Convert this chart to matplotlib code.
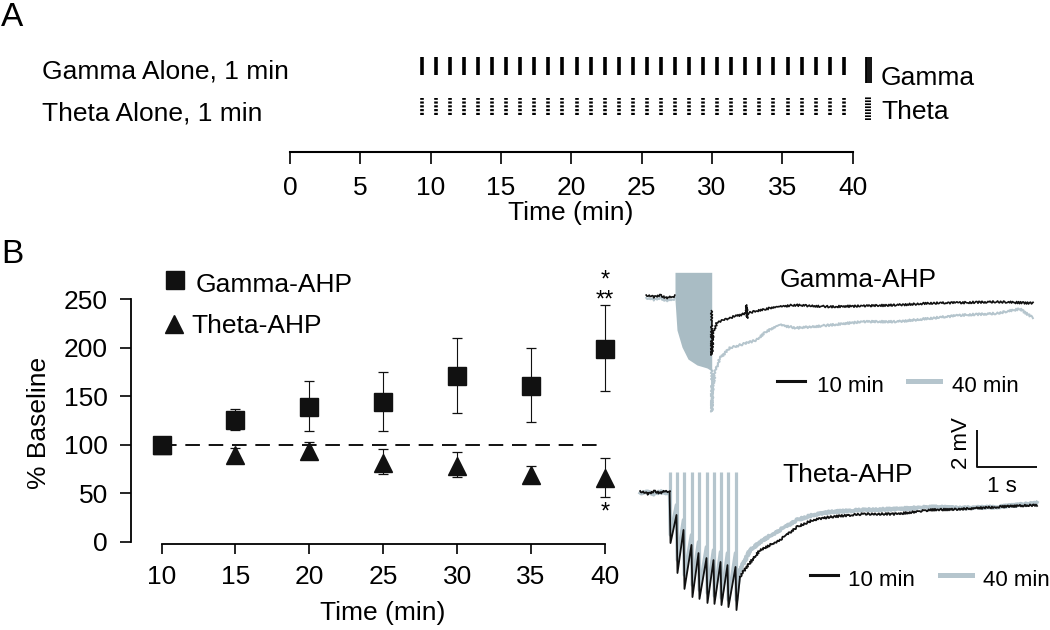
import numpy as np
import matplotlib
matplotlib.use("Agg")
import matplotlib.pyplot as plt
from matplotlib.lines import Line2D

plt.rcParams['font.family'] = ['Liberation Sans', 'DejaVu Sans']
plt.rcParams['axes.linewidth'] = 1.3

W, H = 1050, 630
nan = np.nan

# ---------------- data ----------------
# Panel A: stimulation protocols
protocol_names = ["Gamma Alone, 1 min", "Theta Alone, 1 min"]
protocol_keys = ["Gamma", "Theta"]
epoch_minutes = list(range(10, 41))          # one stimulation epoch each minute
timeline_ticks = [0, 5, 10, 15, 20, 25, 30, 35, 40]

# Panel B: summary (% baseline)
time_min = [10, 15, 20, 25, 30, 35, 40]
gamma_mean = [100, 126, 139, 144.5, 170.5, 160.5, 199]
gamma_low = [100, 115.5, 114, 114.5, 132.5, 123.5, 155]
gamma_high = [100, 137, 166, 175, 210.5, 200, 244]
theta_mean = [100, 89.5, 94, 81, 78.5, 68.5, 66]
theta_low = [100, 85, 88, 69.5, 67, 62, 46.5]
theta_high = [100, 96.5, 102.5, 95.5, 93, 78, 86]
yticks_B = [0, 50, 100, 150, 200, 250]
sig_marks = [("*\n**", 40, 242.3), ("*", 40, 23.9)]
series_names = ["Gamma-AHP", "Theta-AHP"]
trace_names = ["10 min", "40 min"]

# Example traces (time in s, membrane potential in mV)
gamma_10_t = [-0.03, 0.1, 0.2, 0.3, 0.45, nan, 1.058, 1.062, 1.088, 1.145, 1.255, 1.422,
              1.64, 1.645, 1.65, 1.655, 1.867, 2.033, 2.422, 3.033, 3.583, 4.145, 4.70,
              5.25, 5.81, 6.417]
gamma_10_v = [0.05, -0.05, 0.05, -0.1, 0.0, nan, -0.8, -3.19, -1.93, -1.48, -1.30, -1.12,
              -0.94, -0.49, -1.19, -0.94, -0.76, -0.66, -0.49, -0.58, -0.54, -0.49, -0.39,
              -0.36, -0.31, -0.39]
gamma_40_t = [-0.03, 0.1, 0.2, 0.3, 0.45, nan, 1.06, 1.064, 1.078, 1.117, 1.2, 1.367, 1.533,
              1.812, 1.95, 2.2, 2.478, 2.75, 3.033, 3.583, 4.145, 4.70, 5.25, 5.81, 6.2, 6.417]
gamma_40_v = [-0.1, -0.2, -0.1, -0.25, -0.15, nan, -4.0, -6.25, -5.17, -4.09, -3.35, -2.81,
              -2.65, -2.38, -1.95, -1.57, -1.73, -1.66, -1.57, -1.39, -1.39, -1.21, -1.03,
              -0.94, -0.70, -1.19]
gamma_train_t = [0.45, 0.483, 0.567, 0.667, 0.817, 0.983, 1.062]
gamma_train_low = [-0.22, -1.84, -2.76, -3.41, -3.73, -3.89, -4.05]
gamma_train_high = 1.28

theta_burst_t = [0.367, 0.483, 0.6, 0.733, 0.85, 0.983, 1.1, 1.217, 1.333, 1.467]
theta_artifact_high = 1.09
theta_pre_t = [-0.13, 0.0, 0.1, 0.2, 0.3, 0.36]
theta_10_pre_v = [0.05, -0.1, 0.05, -0.05, 0.08, 0.0]
theta_40_pre_v = [-0.05, 0.0, -0.1, 0.02, -0.05, -0.05]
theta_10_tips = [-2.76, -4.38, -5.24, -5.68, -5.78, -6.0, -6.05, -6.11, -6.22, -6.38]
theta_10_levels = [-1.24, -2.05, -2.86, -3.30, -3.57, -3.68, -3.78, -3.95, -4.05]
theta_10_post_t = [1.533, 1.645, 1.867, 2.2, 2.483, 2.75, 3.033, 3.583, 4.15, 4.70, 5.25, 5.817, 6.483]
theta_10_post_v = [-4.58, -4.04, -3.14, -2.59, -1.89, -1.51, -1.35, -1.19, -1.19, -0.97, -0.92, -0.81, -0.70]
theta_40_tips = [-2.32, -3.68, -4.49, -5.03, -5.30, -5.46, -5.62, -5.73, -5.84, -5.84]
theta_40_levels = [-0.70, -1.51, -2.32, -2.70, -2.97, -3.14, -3.24, -3.30, -3.30]
theta_40_post_t = [1.533, 1.70, 1.917, 2.2, 2.483, 2.75, 3.033, 3.583, 4.15, 4.70, 5.25, 5.817, 6.483]
theta_40_post_v = [-4.22, -3.14, -2.59, -2.05, -1.51, -1.24, -1.08, -0.97, -0.92, -0.81, -0.86, -0.81, -0.59]
scale_bar_s, scale_bar_mV = 1.0, 2.0

# ---------------- styling helpers ----------------
BLACK = "#111111"
GREY = "#b5c5cd"
GREY_BLOCK = "#a9bcc4"
FS = 19
NOISE = dict(scale=1.0, length=3, randomness=2)

fig = plt.figure(figsize=(W / 100, H / 100), dpi=100)


def px_axes(x0, y0, x1, y1):
    return fig.add_axes([x0 / W, 1 - y1 / H, (x1 - x0) / W, (y1 - y0) / H])


def ftext(x, y, s, **kw):
    kw.setdefault("fontsize", FS)
    kw.setdefault("va", "baseline")
    return fig.text(x / W, 1 - y / H, s, **kw)


def fline(x0, x1, y, **kw):
    fig.add_artist(Line2D([x0 / W, x1 / W], [1 - y / H] * 2, transform=fig.transFigure, **kw))


# ---------------- Panel A ----------------
ftext(1, 26, "A", fontsize=24)
ftext(42, 78, protocol_names[0])
ftext(42, 120, protocol_names[1])

axA = px_axes(290, 40, 852.7, 152)
axA.set_xlim(0, 40)
axA.set_ylim(0, 1)
for s in ["top", "left", "right"]:
    axA.spines[s].set_visible(False)
axA.spines["bottom"].set_linewidth(1.5)
axA.set_yticks([])
axA.set_xticks(timeline_ticks)
axA.tick_params(axis="x", length=8.6, width=1.2, pad=9, labelsize=FS)
bar_shift = -0.63
ep = [m + bar_shift for m in epoch_minutes]
axA.vlines(ep, 0.6875, 0.848, colors="black", lw=2.6)
axA.vlines(ep, 0.33, 0.479, colors="black", lw=2.6, linestyles=(0, (0.6, 0.45)))
# key marks
axA.vlines([40.92, 41.05, 41.18, 41.31], 0.617, 0.848, colors="black", lw=1.3, clip_on=False)
axA.vlines([41.12], 0.286, 0.49, colors="black", lw=4.3, linestyles=(0, (0.28, 0.22)), clip_on=False)
ftext(881, 85, protocol_keys[0])
ftext(881, 119, protocol_keys[1])
ftext(571, 220, "Time (min)", ha="center")

# ---------------- Panel B (summary) ----------------
ftext(1, 263, "B", fontsize=24)
axB = px_axes(131, 262, 625, 541.7)
axB.set_xlim(7.936, 41.353)
axB.set_ylim(0, 288.5)
axB.spines["top"].set_visible(False)
axB.spines["right"].set_visible(False)
axB.spines["left"].set_bounds(0, 250)
axB.spines["bottom"].set_bounds(10, 40)
axB.spines["bottom"].set_position(("outward", 2))
axB.set_xticks(time_min)
axB.set_yticks(yticks_B)
axB.tick_params(axis="y", length=8, width=1.2, pad=8.6, labelsize=FS)
axB.tick_params(axis="x", length=7, width=1.2, pad=8, labelsize=FS)

axB.plot([time_min[0], time_min[-1]], [100, 100], color=BLACK, lw=1.4,
         linestyle=(0, (7.5, 4.5)), zorder=1)
g_err = [np.array(gamma_mean) - np.array(gamma_low), np.array(gamma_high) - np.array(gamma_mean)]
t_err = [np.array(theta_mean) - np.array(theta_low), np.array(theta_high) - np.array(theta_mean)]
axB.errorbar(time_min, gamma_mean, yerr=g_err, fmt="none", ecolor=BLACK, elinewidth=0.8,
             capsize=3.8, capthick=0.9, zorder=2)
axB.errorbar(time_min, theta_mean, yerr=t_err, fmt="none", ecolor=BLACK, elinewidth=0.8,
             capsize=3.8, capthick=0.9, zorder=2)
axB.plot(time_min, theta_mean, linestyle="none", marker="^", ms=13.5, color=BLACK, zorder=3)
axB.plot(time_min, gamma_mean, linestyle="none", marker="s", ms=12.8, color=BLACK, zorder=4)
for s, x, y in sig_marks:
    axB.text(x, y, s, ha="center", va="baseline", fontsize=17, linespacing=0.9,
             multialignment="center")

# legend keys
axB.plot([0.089], [0.9357], transform=axB.transAxes, marker="s", ms=12.3, color=BLACK,
         clip_on=False, linestyle="none")
axB.plot([0.087], [0.778], transform=axB.transAxes, marker="^", ms=13.5, color=BLACK,
         clip_on=False, linestyle="none")
ftext(196, 292, series_names[0])
ftext(191, 333, series_names[1])
ftext(39, 423, "% Baseline", rotation=90, ha="center", va="center")
ftext(383, 620, "Time (min)", ha="center")

# ---------------- Example traces ----------------
def burst_polyline(bursts, tips, levels, dt=0.008):
    t, v = [], []
    for k, tb in enumerate(bursts):
        t.append(tb + dt)
        v.append(tips[k])
        if k < len(levels):
            t.append(bursts[k + 1] - dt)
            v.append(levels[k])
    return t, v


# Gamma
axG = px_axes(630, 262, 1045, 420)
axG.set_xlim(-0.3, 6.617)
axG.set_ylim(-6.703, 1.838)
axG.axis("off")
l40, = axG.plot(gamma_40_t, gamma_40_v, color=GREY, lw=1.4, zorder=2)
axG.fill_between(gamma_train_t, gamma_train_low, gamma_train_high, color=GREY_BLOCK, lw=0, zorder=3)
l10, = axG.plot(gamma_10_t, gamma_10_v, color=BLACK, lw=1.2, zorder=4)
for ln in (l40, l10):
    ln.set_sketch_params(**NOISE)

# Theta
axT = px_axes(630, 425, 1045, 625)
axT.set_xlim(-0.3, 6.617)
axT.set_ylim(-7.189, 3.622)
axT.axis("off")
axT.vlines(theta_burst_t, theta_40_tips, theta_artifact_high, colors=GREY, lw=2.3, zorder=1)
for pre_v, tips, levels, post_t, post_v, col, lw, z in [
        (theta_40_pre_v, theta_40_tips, theta_40_levels, theta_40_post_t, theta_40_post_v, GREY, 2.6, 2),
        (theta_10_pre_v, theta_10_tips, theta_10_levels, theta_10_post_t, theta_10_post_v, BLACK, 1.3, 3)]:
    bt, bv = burst_polyline(theta_burst_t, tips, levels)
    pre, = axT.plot(theta_pre_t, pre_v, color=col, lw=lw, zorder=z)
    axT.plot([theta_pre_t[-1]] + bt + [post_t[0]], [pre_v[-1]] + bv + [post_v[0]],
             color=col, lw=lw, zorder=z)
    post, = axT.plot(post_t, post_v, color=col, lw=lw, zorder=z)
    pre.set_sketch_params(**NOISE)
    post.set_sketch_params(**NOISE)

# scale bar
sb_x0, sb_y0 = 5.483, 1.35
axT.plot([sb_x0, sb_x0, sb_x0 + scale_bar_s], [sb_y0 + scale_bar_mV, sb_y0, sb_y0],
         color=BLACK, lw=1.4, clip_on=False, solid_capstyle="butt")
axT.text(5.23, 2.62, "2 mV", rotation=90, ha="center", va="center", fontsize=16)
axT.text(5.9, 0.3, "1 s", ha="center", va="center", fontsize=16)

# titles & trace keys
ftext(780, 287, series_names[0])
ftext(782, 481.7, series_names[1])
fline(776.7, 805, 381, color=BLACK, lw=2.2)
fline(908, 940, 381, color=GREY, lw=3.6)
ftext(816.7, 391.7, trace_names[0], fontsize=16)
ftext(951.7, 391.7, trace_names[1], fontsize=16)
fline(810, 838, 575, color=BLACK, lw=2.2)
fline(940, 972, 575, color=GREY, lw=3.6)
ftext(848, 585.7, trace_names[0], fontsize=16)
ftext(983, 585.7, trace_names[1], fontsize=16)

fig.savefig("out.png", dpi=100)
